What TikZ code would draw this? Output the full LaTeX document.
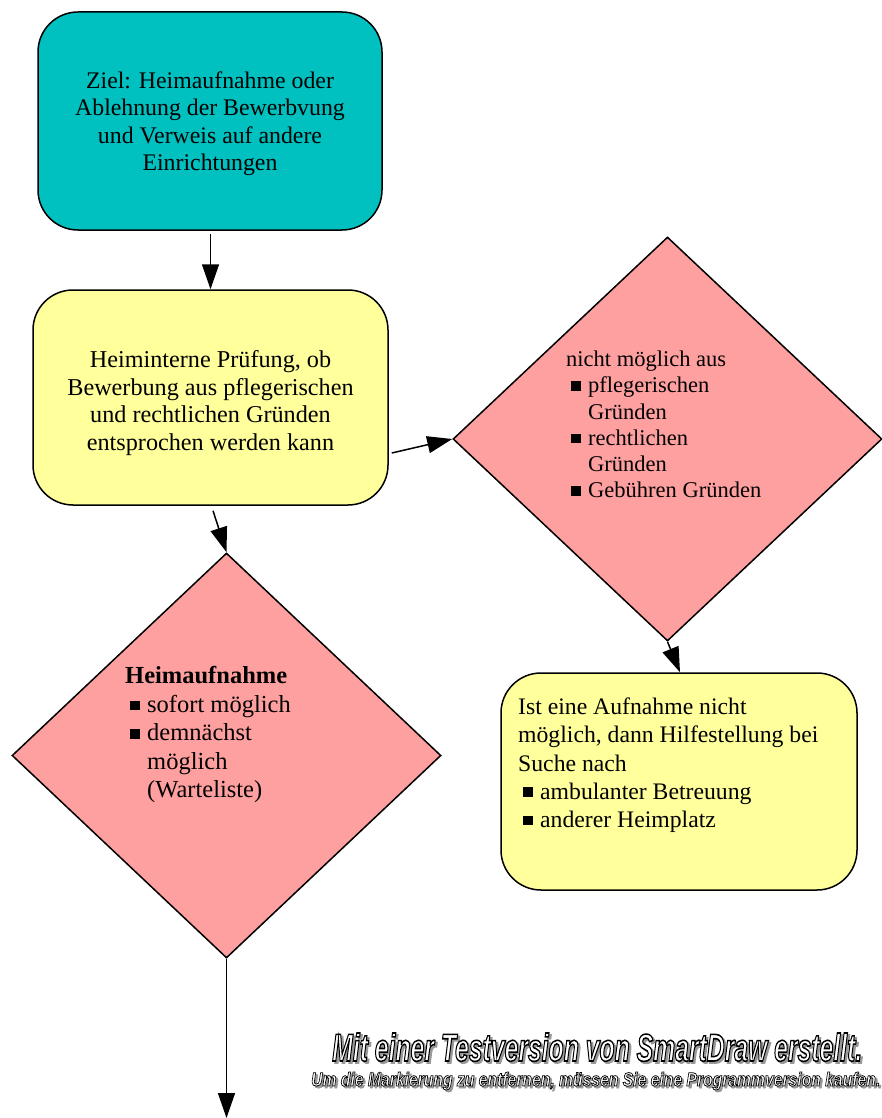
\documentclass[tikz,border=0pt]{standalone}
\usepackage{fontspec}
\usepackage{graphicx}
\setmainfont{Liberation Serif}
\newfontfamily\wmfont{Liberation Sans Bold Italic}[FakeBold=4]
\usetikzlibrary{shapes.geometric,arrows.meta,calc}
\definecolor{tealc}{RGB}{0,192,192}
\definecolor{yelc}{RGB}{255,255,156}
\definecolor{pinkc}{RGB}{255,160,160}
\newcommand\bul{\makebox[22pt][l]{\hspace{5pt}\rule[2pt]{9.8pt}{9.8pt}}}
\newcommand\ind{\hspace*{22pt}}
\newcommand\wmA{\resizebox{530pt}{28pt}{\wmfont Mit einer Testversion von SmartDraw erstellt.}}
\newcommand\wmB{\resizebox{569pt}{14pt}{\wmfont Um die Markierung zu entfernen, müssen Sie eine Programmversion kaufen.}}
\newcommand\wmstack[1]{%
 \rlap{\hspace*{2.2pt}\raisebox{-2pt}{\color{gray!80}#1}}%
 {\color{white}\special{pdf:literal direct 0 0 0 RG}#1}}
\begin{document}
\begin{tikzpicture}[x=1pt,y=-1pt,
  box/.style={draw, line width=1.5pt, rounded corners=40pt, inner sep=0pt},
  dia/.style={draw, diamond, fill=pinkc, line width=1.5pt, inner sep=0pt},
  arr/.style={-{Triangle[length=25pt,width=17pt]}, line width=1.5pt},
  txt/.style={inner sep=0pt},
]
\useasboundingbox (0,0) rectangle (882,1118);

% boxes
\node[box, fill=tealc, minimum width=344pt, minimum height=218pt] (goal) at (210,121) {};
\node[txt, align=center, font=\fontsize{23.8}{27.5}\selectfont] (goaltxt) at (210,123.5)
  {Ziel: Heimaufnahme oder\\Ablehnung der Bewerbvung\\und Verweis auf andere\\Einrichtungen};

\node[box, fill=yelc, minimum width=355pt, minimum height=215pt] (yel) at (210.5,397.5) {};
\node[txt, align=center, font=\fontsize{24.2}{27.8}\selectfont] (yeltxt) at (210.5,403)
  {Heiminterne Prüfung, ob\\Bewerbung aus pflegerischen\\und rechtlichen Gründen\\entsprochen werden kann};

\node[dia, minimum width=429pt, minimum height=404pt] (dr) at (667.5,439) {};
\node[txt, align=left, anchor=north west, font=\fontsize{22.5}{26.3}\selectfont] (drtxt) at (566,350.6)
  {nicht möglich aus\\\bul pflegerischen\\\ind Gründen\\\bul rechtlichen\\\ind Gründen\\\bul Gebühren Gründen};

\node[box, fill=yelc, minimum width=356pt, minimum height=217pt] (box2) at (679,781.5) {};
\node[txt, align=left, anchor=north west, font=\fontsize{23.7}{28.2}\selectfont] (box2txt) at (518,697.8)
  {Ist eine Aufnahme nicht\\möglich, dann Hilfestellung bei\\Suche nach\\\bul ambulanter Betreuung\\\bul anderer Heimplatz};

\node[dia, minimum width=429pt, minimum height=405pt] (dl) at (226.5,755.5) {};
\node[txt, align=left, anchor=north west, font=\fontsize{24.5}{28.4}\selectfont] (dltxt) at (125,666.5)
  {{\bfseries Heimaufnahme}\\\bul sofort möglich\\\bul demnächst\\\ind möglich\\\ind (Warteliste)};

% connectors
\draw[arr] ($(goal.south)+(0.5,3)$) -- (yel.north);
\draw[arr] ($(yel.east)+(3,55.5)$) -- (dr.west);
\draw[arr] ($(yel.south)+(2.5,5)$) -- (dl.north);
\draw[arr] (dr.south) -- ($(box2.north)+(1,0)$);
\coordinate (endp) at (226.5,1118);
\draw[arr] (dl.south) -- (endp);

% watermark
\node[anchor=base west, inner sep=0pt] (wm1) at (332,1061) {\wmstack{\wmA}};
\node[anchor=base west, inner sep=0pt] (wm2) at (311,1086) {\wmstack{\wmB}};
\end{tikzpicture}
\end{document}
